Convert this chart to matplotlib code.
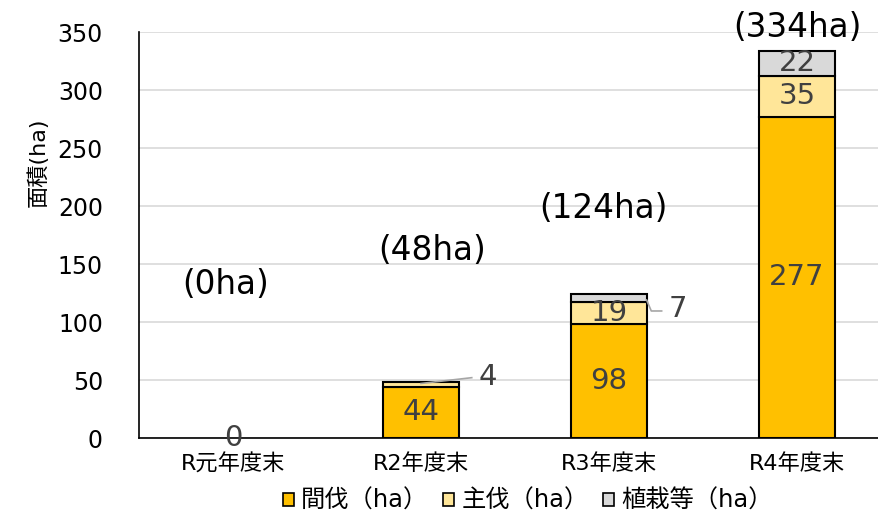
import matplotlib
matplotlib.use("Agg")
import matplotlib.pyplot as plt
from matplotlib.patches import Patch
import numpy as np

plt.rcParams['font.family'] = ['DejaVu Sans', 'Noto Sans CJK JP']

categories = ['R元年度末', 'R2年度末', 'R3年度末', 'R4年度末']
thinning = [0, 44, 98, 277]      # 間伐
final_cut = [0, 4, 19, 35]       # 主伐
planting = [0, 0, 7, 22]         # 植栽等
series_names = ['間伐（ha）', '主伐（ha）', '植栽等（ha）']
colors = ['#FFC000', '#FFE699', '#D9D9D9']
yticks = [0, 50, 100, 150, 200, 250, 300, 350]

totals = [a + b + c for a, b, c in zip(thinning, final_cut, planting)]

fig = plt.figure(figsize=(8.79, 5.17), dpi=100)
ax = fig.add_axes([139 / 879, 79 / 517, 752 / 879, 406 / 517])

x = np.arange(len(categories))
w = 0.4
text_col = '#404040'

bottom3 = [a + b for a, b in zip(thinning, final_cut)]
b1 = ax.bar(x, thinning, w, color=colors[0], edgecolor='black', linewidth=1.5, zorder=3)
b2 = ax.bar(x, final_cut, w, bottom=thinning, color=colors[1], edgecolor='black',
            linewidth=1.5, zorder=3)
b3 = ax.bar(x, planting, w, bottom=bottom3, color=colors[2], edgecolor='black',
            linewidth=1.5, zorder=3)
# zero-height segments are not drawn
for bars, vals in ((b1, thinning), (b2, final_cut), (b3, planting)):
    for rect, v in zip(bars, vals):
        if v == 0:
            rect.set_visible(False)

ax.set_xlim(-0.5, 3.5)
ax.set_ylim(0, 350)
ax.set_yticks(yticks)
ax.yaxis.grid(True, color='#D9D9D9', linewidth=1.2, zorder=0)
ax.set_axisbelow(True)
for s in ('top', 'right'):
    ax.spines[s].set_visible(False)
ax.spines['left'].set_color('black')
ax.spines['bottom'].set_color('black')
ax.spines['left'].set_linewidth(1.2)
ax.spines['bottom'].set_linewidth(1.2)
ax.tick_params(axis='y', length=0, pad=26, labelsize=17, labelcolor='black')
ax.tick_params(axis='x', length=0, pad=11, labelsize=16, labelcolor='black')
ax.set_xticks(x)
ax.set_xticklabels(categories)

fig.text(38 / 879, 1 - 162 / 517, '面積(ha)', rotation=90, fontsize=16,
         ha='center', va='center')

# segment value labels
lab_fs = 21
for i in range(len(categories)):
    if thinning[i] > 20:
        ax.text(x[i], thinning[i] / 2, str(thinning[i]), ha='center', va='center',
                fontsize=lab_fs, color=text_col, zorder=5)
    if final_cut[i] >= 10:
        ax.text(x[i], thinning[i] + final_cut[i] / 2, str(final_cut[i]), ha='center',
                va='center', fontsize=lab_fs, color=text_col, zorder=5)
    if planting[i] >= 10:
        ax.text(x[i], bottom3[i] + planting[i] / 2, str(planting[i]), ha='center',
                va='center', fontsize=lab_fs, color=text_col, zorder=5)

# zero label for the first category
ax.text(x[0], 0, str(thinning[0]), ha='center', va='center', fontsize=lab_fs,
        color=text_col, zorder=5)

# small segments labelled outside with leader lines
ax.plot([1.0, 1.27], [thinning[1] + final_cut[1] - 1, 52], color='#A6A6A6', lw=1.2, zorder=4)
ax.text(1.356, 52.5, str(final_cut[1]), ha='center', va='center', fontsize=lab_fs,
        color=text_col)
ax.plot([2.2, 2.225, 2.28], [119, 109.5, 109.5], color='#A6A6A6', lw=1.2, zorder=4)
ax.text(2.367, 111, str(planting[2]), ha='center', va='center', fontsize=lab_fs,
        color=text_col)

# totals above the bars
total_pos = [(-0.04, 132), (1.06, 162), (1.97, 198), (3.0, 354)]
for i, (tx, ty) in enumerate(total_pos):
    ax.text(tx, ty, f'({totals[i]}ha)', ha='center', va='center', fontsize=23.5,
            color='black', clip_on=False)

handles = [Patch(facecolor=c, edgecolor='black', linewidth=1.2) for c in colors]
fig.legend(handles, series_names, loc='center', bbox_to_anchor=(528 / 879, 1 - 501 / 517),
           ncol=3, frameon=False, fontsize=17.5, handlelength=0.45, handleheight=0.45,
           handletextpad=0.3, columnspacing=0.6, borderpad=0)

fig.savefig('out.png', dpi=100)
